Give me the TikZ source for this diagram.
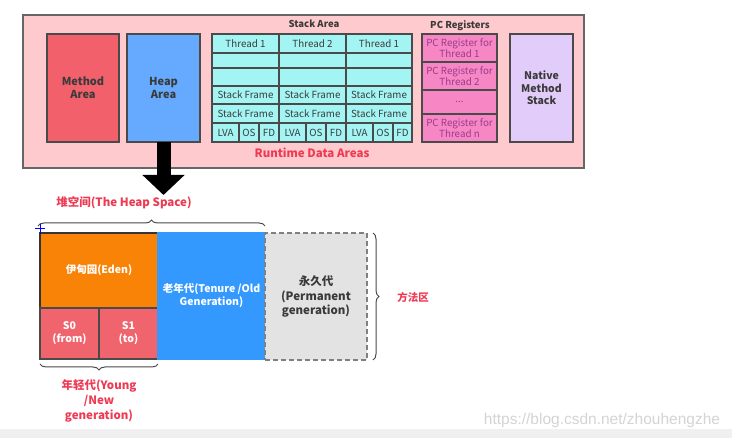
\documentclass[tikz,border=0pt]{standalone}
\usepackage{fontspec}
\setmainfont{Noto Sans CJK SC}
\newfontfamily\wmfont{Liberation Sans}
\usetikzlibrary{decorations.pathreplacing,arrows.meta}
\definecolor{pinkbg}{HTML}{FFCACD}
\definecolor{methodred}{HTML}{F2606B}
\definecolor{heapblue}{HTML}{66AAFF}
\definecolor{cyancell}{HTML}{A3F5F3}
\definecolor{pcpink}{HTML}{F786C4}
\definecolor{natlav}{HTML}{E2CDFA}
\definecolor{edgegray}{HTML}{4A4A4A}
\definecolor{txtgray}{HTML}{3A3A3A}
\definecolor{pctxt}{HTML}{9A3C8E}
\definecolor{lblred}{HTML}{EE3B54}
\definecolor{edenor}{HTML}{F98307}
\definecolor{survred}{HTML}{F0646E}
\definecolor{oldblue}{HTML}{3399FF}
\definecolor{permgray}{HTML}{E3E3E3}
\definecolor{wmgray}{HTML}{D4D4D4}
\tikzset{
  rect/.style={inner sep=0pt, outer sep=0pt, anchor=north west, draw=edgegray, line width=1.1pt, align=center},
  bigbold/.style={font=\fontsize{11}{13}\selectfont\bfseries, text=txtgray},
  cell/.style={rect, fill=cyancell, font=\fontsize{9.8}{10}\selectfont, text=txtgray},
  pcell/.style={rect, fill=pcpink, font=\fontsize{9.8}{11}\selectfont, text=pctxt},
  gen/.style={rect, font=\fontsize{10.5}{13}\selectfont\bfseries, text=white},
  redlbl/.style={font=\fontsize{11.5}{15}\selectfont\bfseries, text=lblred, align=center},
  hdr/.style={font=\fontsize{9.5}{11}\selectfont\bfseries, text=txtgray},
  bracey/.style={draw=edgegray, line width=1pt, decorate, decoration={brace, amplitude=6pt}}
}
\begin{document}
\begin{tikzpicture}[x=1pt,y=-1pt]
\useasboundingbox (0,0) rectangle (732,438);
\fill[white] (0,0) rectangle (732,438);
\fill[gray!12] (0,429) rectangle (732,438);
% outer runtime area
\node[rect, fill=pinkbg, draw=gray!80!black, minimum width=561pt, minimum height=153pt] (rda) at (23,15) {};
\node[rect, fill=methodred, bigbold, minimum width=72pt, minimum height=108pt] (method) at (47,34) {Method\\Area};
\node[rect, fill=heapblue, bigbold, minimum width=73pt, minimum height=108pt] (heap) at (127,34) {Heap\\Area};
% stack area
\node[hdr] (stacklbl) at (314,24) {Stack Area};
\foreach \c/\x/\w/\t in {1/212/67/Thread 1, 2/279/67/Thread 2, 3/346/66/Thread 1}{
  \node[cell, minimum width=\w pt, minimum height=19pt] (th\c) at (\x,34) {\t};
  \node[cell, minimum width=\w pt, minimum height=15pt] (ea\c) at (\x,53) {};
  \node[cell, minimum width=\w pt, minimum height=18pt] (eb\c) at (\x,68) {};
  \node[cell, minimum width=\w pt, minimum height=18pt] (sfa\c) at (\x,86) {Stack Frame};
  \node[cell, minimum width=\w pt, minimum height=19pt] (sfb\c) at (\x,104) {Stack Frame};
  \node[cell, minimum width=27pt, minimum height=19pt] (lva\c) at (\x,123) {LVA};
  \node[cell, minimum width=20pt, minimum height=19pt] (os\c) at (\x+27,123) {OS};
  \node[cell, minimum width=\w pt - 47pt, minimum height=19pt] (fd\c) at (\x+47,123) {FD};
}
\node[font=\fontsize{11.5}{12}\selectfont\bfseries, text=lblred] (rdalbl) at (312,153) {Runtime Data Areas};
% pc registers
\node[hdr] (pclbl) at (460,26) {PC Registers};
\node[pcell, minimum width=75pt, minimum height=28pt] (pc1) at (422,34) {PC Register for\\Thread 1};
\node[pcell, minimum width=75pt, minimum height=28pt] (pc2) at (422,62) {PC Register for\\Thread 2};
\node[pcell, minimum width=75pt, minimum height=24pt] (pc3) at (422,90) {...};
\node[pcell, minimum width=75pt, minimum height=28pt] (pcn) at (422,114) {PC Register for\\Thread n};
% native
\node[rect, fill=natlav, font=\fontsize{10.5}{12.5}\selectfont\bfseries, text=txtgray, minimum width=63pt, minimum height=108pt] (native) at (510,34) {Native\\Method\\Stack};
% arrow
\coordinate (heaptip) at (heap.south |- 0,195);
\draw[line width=14pt, -{Triangle[width=41pt,length=20pt]}] (heap.south) -- (heaptip);
% heap space
\node[redlbl] (heaplbl) at (124,203) {堆空间(The Heap Space)};
\coordinate (hbl) at (38,226);
\coordinate (hbr) at (265,226);
\draw[bracey] (hbl) -- (hbr);
\node[gen, fill=edenor, draw=edgegray!70!black, minimum width=118pt, minimum height=75pt] (eden) at (40,233) {伊甸园(Eden)};
\node[gen, fill=survred, minimum width=59pt, minimum height=51pt] (s0) at (40,308) {S0\\(from)};
\node[gen, fill=survred, minimum width=59pt, minimum height=51pt] (s1) at (99,308) {S1\\(to)};
\node[gen, fill=oldblue, draw=oldblue, minimum width=107pt, minimum height=126pt] (old) at (158,233) {老年代(Tenure /Old\\Generation)};
\node[rect, fill=permgray, draw=gray, dashed, dash pattern=on 5pt off 3pt, font=\fontsize{11.5}{14.5}\selectfont\bfseries, text=txtgray, minimum width=102pt, minimum height=127pt] (perm) at (265,233) {永久代\\(Permanent\\generation)};
\draw[blue, line width=1pt] (35,229) -- (45,229) (40,224) -- (40,234);
% braces
\coordinate (pbt) at (373,233);
\coordinate (pbb) at (373,360);
\draw[bracey] (pbt) -- (pbb);
\node[font=\fontsize{10.5}{12}\selectfont\bfseries, text=lblred] (methodlbl) at (413,297) {方法区};
\coordinate (ybr) at (158,364);
\coordinate (ybl) at (40,364);
\draw[bracey] (ybr) -- (ybl);
\node[redlbl] (younglbl) at (99,401) {年轻代(Young\\/New\\generation)};
% watermark
\node[font=\wmfont\fontsize{15.5}{16}\selectfont, text=wmgray] (wm) at (602,420) {https://blog.csdn.net/zhouhengzhe};
\end{tikzpicture}
\end{document}
